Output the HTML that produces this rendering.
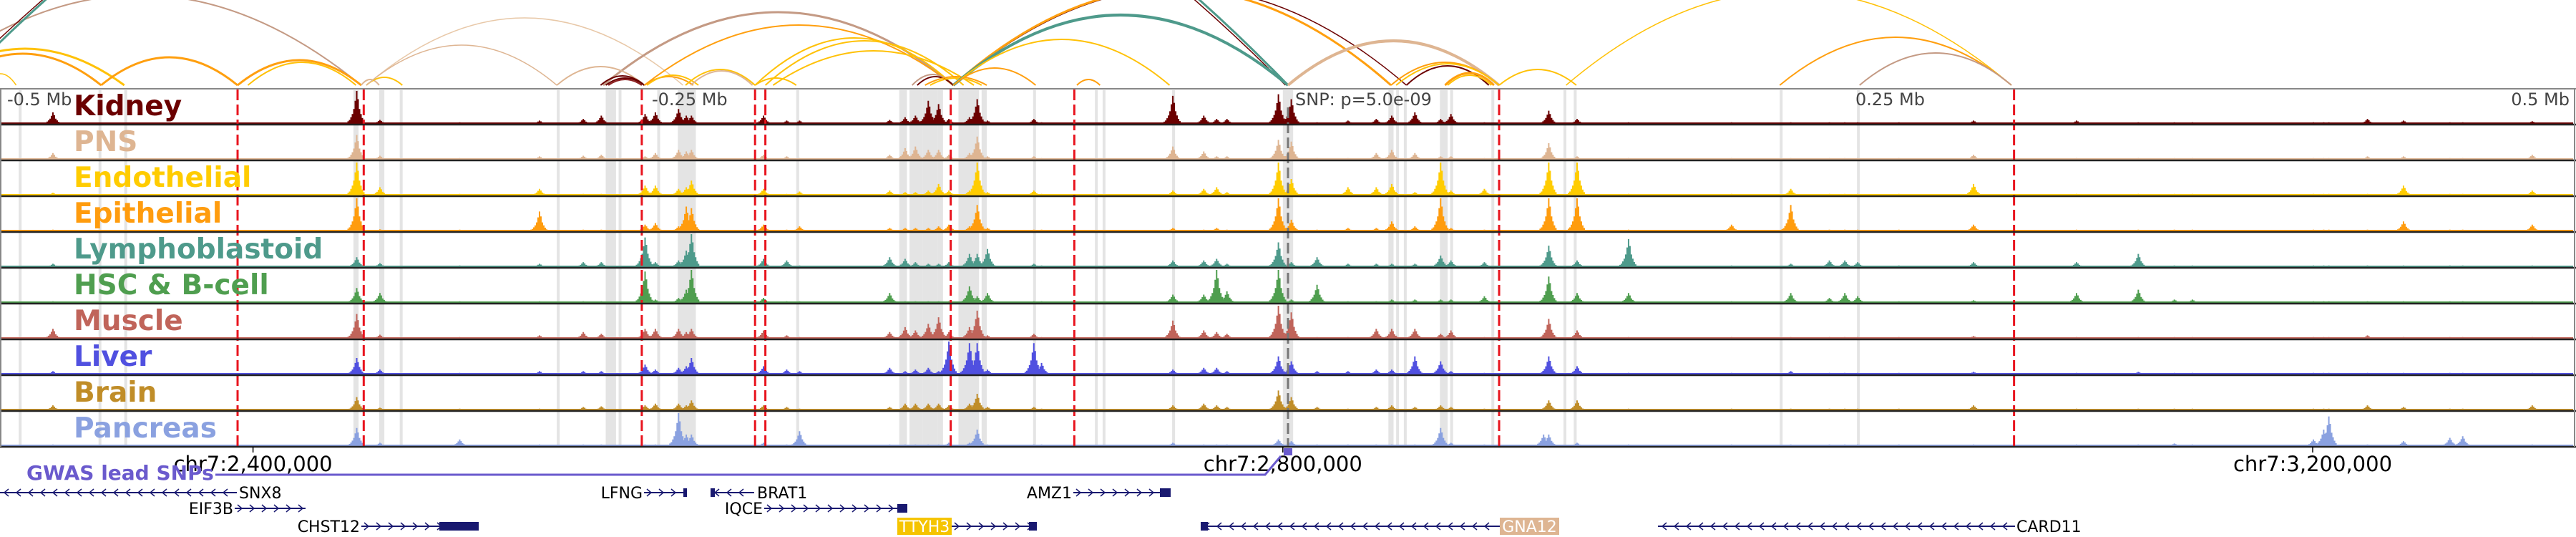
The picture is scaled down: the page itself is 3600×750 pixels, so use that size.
<!DOCTYPE html>
<html><head><meta charset="utf-8">
<style>
html,body{margin:0;padding:0;background:#fff;}
svg{display:block;font-family:"DejaVu Sans","Liberation Sans",sans-serif;}
</style></head>
<body>
<svg id="chart" width="3600" height="750" viewBox="0 0 3600 750" xmlns="http://www.w3.org/2000/svg">
<g id="arcs"></g>
<g id="bands"></g>
<g id="signals"></g>
<g id="vlines"></g>
<g id="frames"></g>
<g id="labels"></g>
<g font-size="24" fill="#444">
<text x="10" y="147">-0.5 Mb</text>
<text x="911" y="147">-0.25 Mb</text>
<text x="1810" y="147">SNP: p=5.0e-09</text>
<text x="2690" y="147" text-anchor="end">0.25 Mb</text>
<text x="3591" y="147" text-anchor="end">0.5 Mb</text>
</g>
<g id="axis"></g>
<g>
<text x="37" y="670" font-size="28" font-weight="bold" fill="#6a5acd">GWAS lead SNPs</text>
<polyline points="301,663 1768,663 1790,637" fill="none" stroke="#6a5acd" stroke-width="3"/>
<rect x="1794" y="626" width="12" height="10" fill="#6a5acd"/>
</g>
<g id="genes" font-size="22" fill="#000"></g>
</svg>
<script>
// ---------- data ----------
const trackNames = ["Kidney","PNS","Endothelial","Epithelial","Lymphoblastoid","HSC & B-cell","Muscle","Liver","Brain","Pancreas"];
const trackColors = ["#6b0000","#deb592","#ffcc00","#ff9c0e","#4e9a8b","#4f9e4f","#c0645a","#5050e0","#c08d28","#8aa1e0"];
const peakKb = [-480,-362,-353,-322,-291,-274,-267,-250,-246,-237,-234,-232,-204,-195,-190,-155,-149,-145,-140,-136,-132,-124,-121,-117,-99,-96,-45,-33,-28,-24,-4,1,11,23,34,40,49,59,63,76,99,101,112,132,172,195,210,216,221,237,266,306,330,344,351,398,402,404,419,433,451,456,483];
const kidney = [.35,1,.12,.05,.1,.15,.25,.3,.35,.45,.25,.25,.25,.1,.1,.12,.2,.25,.7,.6,.15,.2,.75,.1,.15,.05,.85,.25,.15,.15,.9,.75,.05,.1,.15,.25,.35,.15,.3,.05,.05,.4,.15,.05,.05,.05,.05,.05,.05,.05,.1,.1,.05,.05,.05,.05,.05,.05,.15,.1,.05,.05,.08];
const pns = [.2,.75,.12,.05,.1,.12,.15,.1,.2,.3,.25,.3,.15,.1,.05,.15,.35,.4,.3,.3,.15,.2,.7,.1,.1,.05,.4,.25,.1,.1,.6,.55,.05,.05,.2,.3,.2,.1,.1,.05,.05,.5,.1,.05,.05,.05,.05,.05,.05,.05,.15,.05,.05,.05,.05,.05,.05,.05,.1,.1,.05,.05,.15];
const endothelial = [.08,1,.25,.05,.2,.05,.05,.3,.3,.2,.25,.45,.2,.05,.12,.15,.1,.1,.15,.35,.15,.15,1,.1,.15,.05,.15,.2,.25,.1,1,.5,.05,.25,.25,.35,.1,1,.15,.2,.05,1,1,.05,.05,.2,.05,.05,.05,.05,.35,.05,.05,.05,.05,.05,.05,.05,.05,.3,.05,.05,.15];
const epithelial = [.05,1,.06,.05,.6,.05,.05,.2,.25,.15,.75,.7,.2,.05,.15,.1,.1,.1,.1,.15,.2,.15,.8,.1,.05,.05,.1,.05,.1,.05,1,.35,.05,.1,.1,.3,.15,1,.1,.05,.05,1,1,.05,.2,.8,.05,.05,.05,.05,.2,.05,.05,.05,.05,.05,.05,.05,.05,.3,.05,.05,.2];
const lymphoblastoid = [.1,.3,.12,.05,.1,.15,.15,.9,.15,.2,.5,1,.25,.2,.05,.3,.25,.15,.1,.1,.15,.4,.4,.55,.1,.05,.2,.2,.25,.1,.75,.15,.3,.1,.1,.1,.1,.35,.2,.15,.05,.65,.2,.85,.05,.1,.2,.2,.15,.05,.15,.15,.4,.05,.05,.05,.05,.05,.05,.05,.05,.05,.05];
const hscBcell = [.05,.45,.3,.05,.05,.05,.05,.95,.1,.15,.4,1,.15,.05,.05,.3,.05,.05,.05,.05,.05,.5,.2,.3,.05,.05,.25,.25,1,.35,1,.1,.55,.05,.05,.1,.1,.1,.1,.2,.05,.8,.3,.3,.05,.3,.15,.3,.2,.05,.08,.3,.4,.1,.1,.05,.05,.05,.05,.05,.05,.05,.05];
const muscle = [.3,.75,.12,.05,.1,.2,.15,.3,.3,.3,.2,.3,.25,.1,.05,.2,.35,.25,.45,.65,.2,.35,.85,.1,.15,.05,.55,.25,.2,.15,1,.8,.05,.05,.3,.3,.3,.15,.25,.05,.05,.6,.25,.05,.05,.05,.05,.05,.05,.05,.08,.05,.05,.05,.05,.05,.05,.05,.1,.05,.05,.05,.05];
const liver = [.1,.5,.15,.05,.1,.1,.1,.3,.15,.2,.25,.5,.25,.15,.1,.2,.1,.15,.2,.1,1,.95,.95,.15,.95,.35,.15,.2,.2,.1,.55,.4,.1,.1,.15,.15,.55,.4,.1,.05,.05,.55,.25,.05,.05,.1,.05,.05,.05,.05,.08,.05,.08,.05,.05,.05,.05,.05,.05,.05,.05,.05,.05];
const brain = [.15,.4,.08,.05,.05,.1,.12,.15,.2,.2,.15,.3,.15,.1,.05,.1,.2,.2,.2,.2,.15,.2,.5,.1,.1,.05,.15,.2,.15,.1,.6,.4,.1,.05,.1,.15,.1,.15,.1,.05,.05,.3,.3,.05,.05,.05,.05,.05,.05,.05,.15,.05,.05,.05,.05,.05,.05,.05,.15,.1,.05,.05,.15];
const pancreas = [.05,.55,.1,.2,.05,.05,.05,.05,.05,1,.35,.35,.1,.05,.45,.05,.05,.05,.05,.05,.1,.1,.5,.05,.05,.05,.1,.05,.05,.05,.2,.15,.05,.05,.05,.05,.05,.55,.1,.05,.35,.35,.1,.05,.05,.05,.05,.05,.05,.05,.05,.05,.05,.08,.05,.2,.5,.9,.05,.15,.25,.3,.05];
const bandStartKb = [-493,-462,-452,-363,-353,-345,-284,-265,-260,-245,-237,-191,-151,-147,-146,-142,-136,-128,-119,-99,-75,-72,-45,-2,39,42,45,59,63,79,107,111,191,221];
const bandEndKb   = [-492,-461,-451,-361,-351,-344,-283,-261,-259,-244,-230,-190,-148,-146,-142,-136,-134,-120,-117,-98,-74,-71,-44,2,41,43,46,62,64,80,108,112,192,222];
const redLineKb = [-408,-359,-251,-207,-203,-131,-83,82,282];
const arcStartKb = [-532,-517,-519,-529,-522,-506,-461,-408,-404,-360,-358,-358,-358,-266,-250,-284,-267,-265,-264,-250,-249,-234,-232,-207,-207,-203,-200,-146,-144,-141,-139,-130,-130,-130,-130,-130,-82,0,40,42,46,61,62,82,108,191,222];
const arcEndKb   = [-360,0,-1,-452,-461,-494,-408,-360,-362,-353,-344,-235,-284,-130,-130,-250,-250,-250,-251,-231,-229,-207,-208,-191,-130,-126,-122,-130,-130,-117,-119,46,40,0,-46,-98,-73,82,82,82,78,80,79,112,281,281,281];
const arcHeight  = [126,480,470,51,44,16,39,35,32,8,11,94,56,102,84,26,13,10,8,12,14,22,20,10,66,62,48,15,12,12,10,136,135,98,64,24,8,62,32,30,27,17,14,22,132,67,45];
const arcColor   = ["#c49a84","#4e9a8b","#6b0000","#ffc107","#ff9f0f","#ffc107","#ff9f0f","#ff9f0f","#ffc107","#deb592","#ffc107","#e8c8a8","#deb592","#c49a84","#ff9f0f","#deb592","#6b0000","#6b0000","#8b2020","#ff9f0f","#ffc107","#ffc107","#deb592","#ffc107","#ffc107","#ffc107","#ffc107","#c49a84","#6b0000","#ff9f0f","#ffc107","#6b0000","#ff9f0f","#4e9a8b","#ffc107","#ff9f0f","#ff9f0f","#deb592","#ff9f0f","#ffc107","#6b0000","#ff9f0f","#ffc107","#ffc107","#ffc107","#ff9f0f","#c49a84"];
const arcWidth   = [2,3,1.5,3,3,1.5,3,3,2,2,2,1.5,1.5,3,2,2,2,2,2,2,2,2,2,2,2,2,2,2,2,2,2,1.5,3,4,2,2,2,4,2,2,2,3,2,2,1.5,2,2];
const tickPositions = [2400000,2800000,3200000];
const tickLabels = ["chr7:2,400,000","chr7:2,800,000","chr7:3,200,000"];
const snpPosition = 2802000;

// ---------- scales ----------
const NS = "http://www.w3.org/2000/svg";
const centerX = 1800, pxPerKb = 3.598;
function xKb(kb){ return centerX + kb*pxPerKb; }
function xBp(bp){ return xKb((bp - snpPosition)/1000); }
const trackTop0 = 124, trackH = 50, peakMaxH = 46;
function trackTop(i){ return trackTop0 + i*trackH; }
function yVal(i,v){ return trackTop(i) + trackH - 1 - v*peakMaxH; }
function mk(tag, attrs, parent){ const e=document.createElementNS(NS,tag); for(const k in attrs) e.setAttribute(k,attrs[k]); parent.appendChild(e); return e; }

const seriesList = [kidney,pns,endothelial,epithelial,lymphoblastoid,hscBcell,muscle,liver,brain,pancreas];
const seriesNames = ["kidney","pns","endothelial","epithelial","lymphoblastoid","hsc-bcell","muscle","liver","brain","pancreas"];

// arcs
const gA = document.getElementById('arcs');
const arcBase = 119;
for(let i=0;i<arcStartKb.length;i++){
  const a=xKb(arcStartKb[i]), b=xKb(arcEndKb[i]), c=(a+b)/2;
  const p = mk('path',{d:`M${a},${arcBase} Q${c},${arcBase-2*arcHeight[i]} ${b},${arcBase}`,fill:'none',stroke:arcColor[i],'stroke-width':arcWidth[i]},gA);
  
  
}

// bands
const gB = document.getElementById('bands');
for(let i=0;i<bandStartKb.length;i++){
  const x0=xKb(bandStartKb[i]), x1=xKb(bandEndKb[i]);
  const w=Math.max(4,x1-x0);
  const r = mk('rect',{x:x0,y:126,width:w,height:497,fill:'#e4e4e4'},gB);
  
  
}

// signals
const gS = document.getElementById('signals');
const offs=[-12,-10,-8,-6,-4,-2,0,2,4,6,8,10];
const prof=[0.08,0.12,0.2,0.3,0.45,0.7,1,0.75,0.45,0.3,0.18,0.1];
seriesList.forEach((vals,t)=>{
  const g = mk('g',{fill:trackColors[t]},gS);
  
  
  const base = trackTop(t)+trackH-1;
  mk('rect',{x:2,y:base-2,width:3594,height:2},g);
  vals.forEach((v,j)=>{
    const x = xKb(peakKb[j]);
    let d='';
    offs.forEach((o,k)=>{
      const y=yVal(t,v*prof[k]);
      d+=`M${x+o},${base}V${y}h2V${base}Z`;
    });
    const p = mk('path',{d:d},g);
    
    
  });
});

// vertical lines
const gV = document.getElementById('vlines');
redLineKb.forEach(kb=>{
  const l = mk('line',{x1:xKb(kb),x2:xKb(kb),y1:125,y2:623,stroke:'#e8141e','stroke-width':3,'stroke-dasharray':'15 6'},gV);
  
  
});
const snpLine = mk('line',{x1:xBp(snpPosition),x2:xBp(snpPosition),y1:150,y2:623,stroke:'#777','stroke-width':3,'stroke-dasharray':'15 6'},gV);



// frames
const gF = document.getElementById('frames');
mk('line',{x1:0,x2:3600,y1:124,y2:124,stroke:'#888','stroke-width':2},gF);
for(let i=1;i<=10;i++){
  mk('line',{x1:0,x2:3600,y1:trackTop(i),y2:trackTop(i),stroke:'#222','stroke-width':2.5},gF);
}
mk('line',{x1:1,x2:1,y1:124,y2:624,stroke:'#888','stroke-width':2},gF);
mk('line',{x1:3598,x2:3598,y1:124,y2:624,stroke:'#888','stroke-width':2},gF);

// labels
const gL = document.getElementById('labels');
trackNames.forEach((n,i)=>{
  const tx = mk('text',{x:103,y:trackTop(i)+37,'font-size':39,'font-weight':'bold',fill:trackColors[i]},gL);
  tx.textContent=n;
  
  
});

// axis
const gX = document.getElementById('axis');
tickPositions.forEach((p,i)=>{
  const x=xBp(p);
  const tk = mk('line',{x1:x,x2:x,y1:624,y2:632,stroke:'#000','stroke-width':1.5},gX);
  
  
  const tl = mk('text',{x:x,y:658,'font-size':29,'text-anchor':'middle',fill:'#000'},gX);
  tl.textContent = tickLabels[i];
  
  
});

// genes
const gG = document.getElementById('genes');
const navy = '#191970';
function gene(name, x0, x1, y, dir, blocks, label){
  const g = mk('g',{},gG);
  
  
  mk('line',{x1:x0,x2:x1,y1:y,y2:y,stroke:navy,'stroke-width':2},g);
  let d='';
  for(let x=x0+8;x<x1-4;x+=17){
    if(dir>0) d+=`M${x-4},${y-5}L${x+2},${y}L${x-4},${y+5}`;
    else d+=`M${x+4},${y-5}L${x-2},${y}L${x+4},${y+5}`;
  }
  mk('path',{d:d,fill:'none',stroke:navy,'stroke-width':1.5},g);
  blocks.forEach(b=>mk('rect',{x:b[0],y:y-6,width:b[1]-b[0],height:12,fill:navy},g));
  if(label.box){ mk('rect',{x:label.x,y:y-12,width:label.w,height:24,fill:label.box},g); }
  const t = mk('text',{x:label.x+(label.box?label.w/2:0),y:y+8,'text-anchor':label.box?'middle':label.anchor,fill:label.box?'#fff':'#000'},g);
  t.textContent=name;
}
gene('SNX8',0,331,688,-1,[],{x:334,anchor:'start'});
gene('LFNG',900,958,688,1,[[955,960]],{x:898,anchor:'end'});
gene('BRAT1',993,1054,688,-1,[[993,999]],{x:1058,anchor:'start'});
gene('AMZ1',1500,1636,688,1,[[1621,1636]],{x:1498,anchor:'end'});
gene('EIF3B',328,427,710,1,[],{x:326,anchor:'end'});
gene('IQCE',1068,1268,710,1,[[1254,1268]],{x:1066,anchor:'end'});
gene('CHST12',505,669,735,1,[[614,669]],{x:503,anchor:'end'});
gene('TTYH3',1330,1449,735,1,[[1438,1449]],{x:1254,w:76,box:'#f5c400'});
gene('GNA12',1678,2096,735,-1,[[1678,1688]],{x:2096,w:83,box:'#deb592'});
gene('CARD11',2317,2816,735,-1,[],{x:2818,anchor:'start'});
</script>
</body></html>
